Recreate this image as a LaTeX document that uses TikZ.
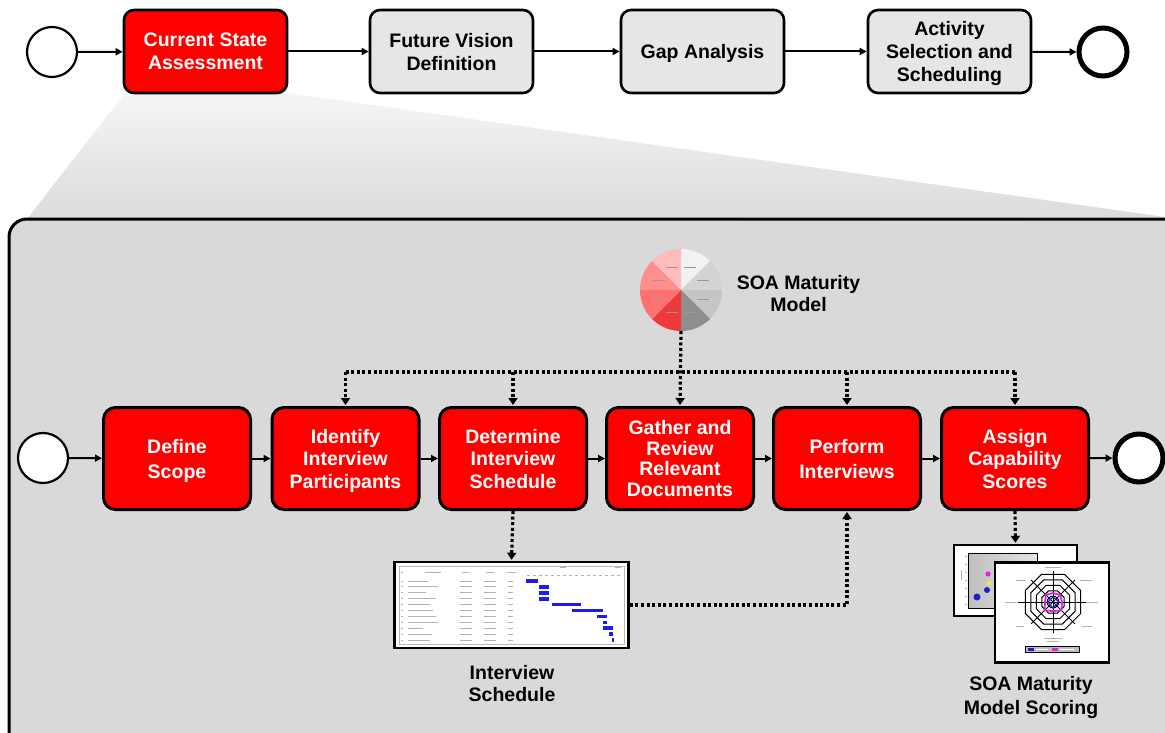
\documentclass[tikz,border=0pt]{standalone}
\usepackage{fontspec}
\setmainfont{Liberation Sans}
\usetikzlibrary{arrows.meta,shapes.geometric,calc}

\definecolor{bpmnred}{HTML}{FF0000}
\definecolor{taskgray}{HTML}{E6E6E6}
\definecolor{panelgray}{HTML}{D9D9D9}
\definecolor{ganttblue}{HTML}{1C1CF2}
\definecolor{radarpink}{HTML}{E020E0}
\definecolor{radarblue}{HTML}{2020C8}
\definecolor{dotyellow}{HTML}{F0F020}

\newcommand\toplabelfont{\bfseries\fontsize{19.5}{23}\selectfont}
\newcommand\tasklabelfont{\bfseries\fontsize{19.5}{22.5}\selectfont}

\tikzset{
  topbox/.style={draw, line width=2.6pt, rounded corners=10pt, fill=taskgray,
    minimum width=163pt, minimum height=83pt, inner sep=0pt, align=center,
    font=\toplabelfont, text depth=0pt},
  curbox/.style={topbox, fill=bpmnred, text=white},
  taskbox/.style={draw, line width=3pt, rounded corners=12pt, fill=bpmnred,
    text=white, minimum width=147pt, minimum height=102pt, inner sep=0pt,
    align=center, font=\tasklabelfont, text depth=0pt},
  twoline/.style={font={\bfseries\fontsize{19.5}{25}\selectfont}},
  startev/.style={circle, draw, line width=2.2pt, fill=white, minimum size=50pt,
    inner sep=0pt},
  endev/.style={circle, draw, line width=5pt, fill=white, minimum size=48pt,
    inner sep=0pt},
  flow/.style={line width=2pt, -{Triangle[length=7pt,width=7pt]}},
  assoc/.style={line width=3.2pt, dash pattern=on 3pt off 2.6pt},
  assocarrow/.style={assoc, -{Triangle[length=7pt,width=9pt]}, shorten >=1pt},
  docframe/.style={draw, line width=2.4pt, fill=white, inner sep=0pt},
  caption/.style={align=center, font=\tasklabelfont},
  fakeglyph/.style={line width=1pt, gray!60}
}

\begin{document}
\begin{tikzpicture}[x=1pt,y=-1pt]
\useasboundingbox (0,0) rectangle (1165,733);
\fill[white] (0,0) rectangle (1165,733);

\begin{scope}
  \clip (0,0) rectangle (1165,733);
  % zoom funnel from the expanded step down to the sub-process panel
  \shade[top color=gray!8, bottom color=gray!28]
    (125,93) -- (287,93) -- (1165,217) -- (27,219) -- cycle;
  % expanded sub-process panel
  \draw[line width=3pt, fill=panelgray, rounded corners=18pt]
    (9,219) rectangle (1195,765);
\end{scope}

% ---------------- top-level process ----------------
\node[startev] (s0) at (52,52) {};
\node[curbox] (csa) at (205.5,51.5) {Current State\\Assessment};
\node[topbox] (fvd) at (451.5,51.5) {Future Vision\\Definition};
\node[topbox] (gap) at (702.5,51.5) {Gap Analysis};
\node[topbox] (act) at (949.5,51.5) {Activity\\Selection and\\Scheduling};
\node[endev] (e0) at (1103,52) {};

\draw[flow] (s0) -- (csa);
\draw[flow] (csa) -- (fvd);
\draw[flow] (fvd) -- (gap);
\draw[flow] (gap) -- (act);
\draw[flow] (act) -- (e0);

% ---------------- sub-process tasks ----------------
\node[startev] (s1) at (43,458) {};
\node[taskbox, twoline] (scope) at (177,458.5) {Define\\Scope};
\node[taskbox] (ident) at (345.5,458.5) {Identify\\Interview\\Participants};
\node[taskbox] (sched) at (513,458.5) {Determine\\Interview\\Schedule};
\node[taskbox, font={\bfseries\fontsize{19.5}{20.7}\selectfont}] (gather) at (680,458.5)
  {Gather and\\Review\\Relevant\\Documents};
\node[taskbox, twoline] (perf) at (847,458.5) {Perform\\Interviews};
\node[taskbox] (assign) at (1015,458.5) {Assign\\Capability\\Scores};
\node[endev] (e1) at (1139,458) {};

\draw[flow] (s1) -- (scope);
\draw[flow] (scope) -- (ident);
\draw[flow] (ident) -- (sched);
\draw[flow] (sched) -- (gather);
\draw[flow] (gather) -- (perf);
\draw[flow] (perf) -- (assign);
\draw[flow] (assign) -- (e1);

% ---------------- maturity model pie ----------------
\node[circle, minimum size=82pt, inner sep=0pt] (pie) at (681,290) {};
\foreach \a/\b/\c in {90/45/F2F2F2, 45/0/D3D3D3, 0/-45/C6C6C6, -45/-90/8E8E8E,
                      -90/-135/EE3A3A, -135/-180/FF7070, 180/135/FF8E8E, 135/90/FFBCBC}{
  \definecolor{slicecol}{HTML}{\c}
  \fill[slicecol] (pie.center) -- ++(\a:41pt) arc[start angle=\a, end angle=\b, radius=41pt] -- cycle;
}
% faint slice captions
\foreach \a in {112.5,157.5,202.5,247.5,292.5,337.5,22.5,67.5}{
  \draw[line width=0.8pt, black!40] ($(pie.center)+(\a:24pt)+(-6pt,0)$) -- ++(12pt,0);
}
\node[caption] (pielbl) at (798.5,293.5) {SOA Maturity\\Model};

% association hub line
\coordinate (hub) at (681,372);
\draw[assoc] (ident.north |- hub) -- (assign.north |- hub);
\draw[assocarrow] (pie.south) -- (gather.north);
\draw[assocarrow] (ident.north |- hub) -- (ident.north);
\draw[assocarrow] (sched.north |- hub) -- (sched.north);
\draw[assocarrow] (perf.north |- hub) -- (perf.north);
\draw[assocarrow] (assign.north |- hub) -- (assign.north);

% ---------------- interview schedule (gantt) ----------------
\node[docframe, minimum width=234pt, minimum height=86pt] (gantt) at (511.5,605) {};
\draw[gray!55, line width=0.6pt] (399,566) rectangle (624,644);
% header
\foreach \xa/\xb in {401/403, 425/441, 462/469, 486/494, 507/516}
  \draw[fakeglyph] (\xa,572) -- (\xb,572);
\draw[fakeglyph] (560,567) -- (566,567);
\draw[fakeglyph] (615,567) -- (621,567);
\foreach \k in {0,...,15}
  \draw[line width=0.8pt, gray!60] (527+6*\k,575) -- ++(3,0);
% rows
\foreach \i/\len in {0/20,1/30,2/18,3/28,4/22,5/25,6/28,7/30,8/15,9/24,10/22}{
  \draw[fakeglyph] (401,581+5.9*\i) -- ++(2,0);
  \draw[fakeglyph] (408,581+5.9*\i) -- ++(\len,0);
  \draw[fakeglyph] (460,581+5.9*\i) -- ++(12,0);
  \draw[fakeglyph] (484,581+5.9*\i) -- ++(12,0);
  \draw[fakeglyph] (508,581+5.9*\i) -- ++(5,0);
}
% bars
\foreach \i/\xa/\xb in {0/526/538, 1/539/549, 2/539/549, 3/539/549, 4/552/581,
                        5/572/603, 6/597/607, 7/603/607, 8/603/613, 9/609/613, 10/612/614}
  \draw[ganttblue, line width=3.6pt] (\xa,581+5.9*\i) -- (\xb,581+5.9*\i);
\node[caption] (ganttlbl) at (512,683.5) {Interview\\Schedule};

\draw[assocarrow] (sched.south) -- (gantt.north);
\draw[assocarrow] (gantt.east) -| (perf.south);

% ---------------- maturity scoring documents ----------------
\node[docframe, minimum width=123pt, minimum height=71pt] (scatter) at (1015.5,580.5) {};
\shade[left color=gray!50, right color=gray!22] (968,553) rectangle (1037,608);
\draw[line width=0.8pt] (968,553) rectangle (1037,608);
\draw[fakeglyph, line width=0.7pt] (961,570) -- (961,580);
\foreach \k in {0,...,6} \draw[gray!60, line width=0.6pt] (965,556+8*\k) -- ++(2,0);
\fill[radarblue] (977,597) circle[radius=3.5pt];
\fill[radarblue] (987,590) circle[radius=3pt];
\fill[dotyellow] (989,583) circle[radius=2.2pt];
\fill[radarpink] (988,574) circle[radius=2.6pt];

\node[docframe, minimum width=114pt, minimum height=100pt] (radar) at (1052,612.5) {};
\coordinate (rc) at (1053,602);
\foreach \r in {6,12,18,24,30}
  \draw[line width=1pt] ($(rc)+(22.5:\r pt)$)
    \foreach \a in {67.5,112.5,...,337.5}{ -- ($(rc)+(\a:\r pt)$) } -- cycle;
\foreach \a in {0,45,...,315}
  \draw[line width=0.9pt] (rc) -- ++(\a:31pt);
\draw[line width=0.6pt] (1018,602) -- (1088,602);
\draw[radarpink, line width=1.8pt] ($(rc)+(90:9pt)$) -- ($(rc)+(45:10pt)$) -- ($(rc)+(0:9pt)$)
  -- ($(rc)+(-45:12pt)$) -- ($(rc)+(-90:9pt)$) -- ($(rc)+(-135:12pt)$)
  -- ($(rc)+(180:8pt)$) -- ($(rc)+(135:10pt)$) -- cycle;
\draw[radarblue, line width=1.2pt] ($(rc)+(90:5pt)$) -- ($(rc)+(0:6pt)$)
  -- ($(rc)+(-90:6pt)$) -- ($(rc)+(180:5pt)$) -- cycle;
% axis captions
\draw[fakeglyph, line width=0.7pt] (1045,567) -- (1061,567);
\draw[fakeglyph, line width=0.7pt] (1080,580) -- (1092,580);
\draw[fakeglyph, line width=0.7pt] (1086,602) -- (1098,602);
\draw[fakeglyph, line width=0.7pt] (1082,626) -- (1092,626);
\draw[fakeglyph, line width=0.7pt] (1044,638) -- (1062,638);
\draw[fakeglyph, line width=0.7pt] (1047,641) -- (1059,641);
\draw[fakeglyph, line width=0.7pt] (1016,626) -- (1024,626);
\draw[fakeglyph, line width=0.7pt] (1005,602) -- (1017,602);
\draw[fakeglyph, line width=0.7pt] (1016,580) -- (1026,580);
% legend
\draw[fill=gray!50, line width=0.6pt] (1025,646) rectangle (1079,652);
\fill[radarblue] (1028,647.5) rectangle (1034,650.5);
\fill[radarpink] (1052,647.5) rectangle (1058,650.5);
\draw[white, line width=0.6pt] (1036,649) -- (1048,649);
\draw[white, line width=0.6pt] (1060,649) -- (1074,649);

\node[caption, font={\bfseries\fontsize{19.5}{24}\selectfont}] (scorelbl) at (1031,697.5)
  {SOA Maturity\\Model Scoring};

\draw[assocarrow] (assign.south) -- (scatter.north);
\end{tikzpicture}
\end{document}
